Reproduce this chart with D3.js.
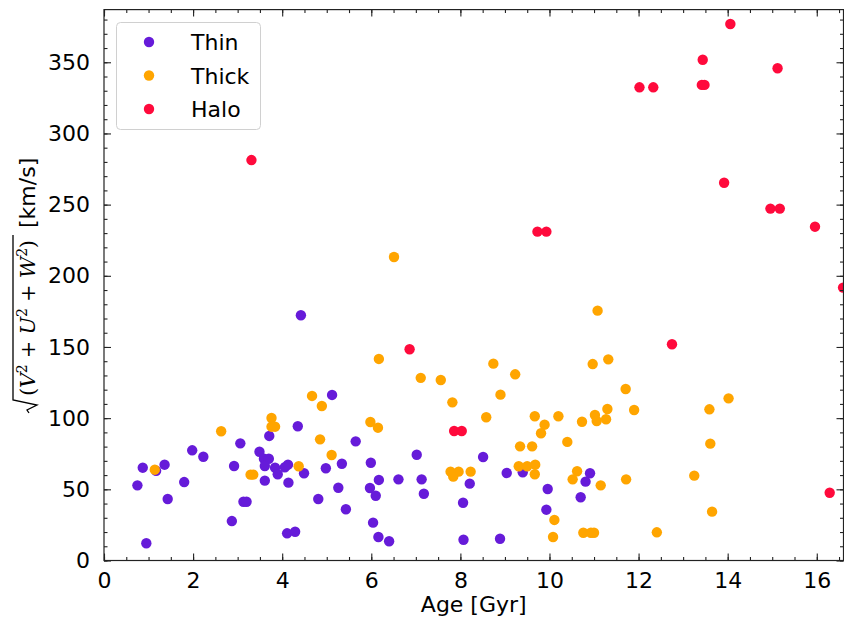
<!DOCTYPE html>
<html><head><meta charset="utf-8">
<script src="https://cdn.jsdelivr.net/npm/d3@7"></script>
<style>body{margin:0;background:#fff}svg{display:block}</style>
</head><body>
<svg id="chart" width="844" height="621"></svg>
<script>
const thinAge = [0.75,0.87,0.95,1.17,1.36,1.43,1.80,1.98,2.23,2.87,2.92,3.06,3.13,3.20,3.49,3.59,3.70,3.61,3.61,3.71,3.84,3.90,4.06,4.13,4.14,4.11,4.29,4.35,4.42,4.49,4.81,4.98,5.12,5.26,5.34,5.43,5.65,5.99,6.17,5.97,6.10,6.04,6.16,6.40,6.61,7.02,7.13,7.18,8.06,8.07,8.21,8.51,8.89,9.04,9.40,9.96,9.93,10.70,10.81,10.91];
const thinVel = [52.8,65.2,12.1,63,67.3,43.2,55.1,77.4,72.9,27.7,66.4,82.3,41.3,41.3,76.4,71.5,71.5,66.4,56.1,87.5,65.2,60.6,65.5,67.3,54.7,19.1,20.2,94.3,172.3,61.3,43.2,64.8,116.3,51.1,68,36.0,83.7,68.7,56.6,50.9,45.5,26.6,16.5,13.5,57.0,74.3,57.0,46.9,40.6,14.6,54.0,72.7,15.3,61.5,62.0,50.2,35.7,44.4,55.4,61.3];
const thickAge = [1.14,2.63,3.29,3.35,3.76,3.76,3.84,4.37,4.67,4.89,4.85,5.11,5.98,6.15,6.17,6.51,7.11,7.56,7.82,7.78,7.96,7.84,8.23,8.58,8.74,8.90,9.23,9.34,9.61,9.31,9.50,9.68,9.67,9.67,9.89,9.81,10.20,10.40,10.11,10.08,10.62,10.52,10.73,10.76,10.93,11.00,10.97,11.02,11.06,11.08,11.15,11.27,11.30,11.32,11.71,11.72,11.90,12.41,13.25,13.59,13.61,13.65,14.02];
const thickVel = [63.8,90.8,60.3,60.3,100.1,94,94,66.2,115.6,108.5,85.1,74.1,97.3,93.3,141.6,213.2,128.3,126.8,111.1,62.4,62.4,58.9,62.4,100.6,138.3,116.5,130.8,80.2,80.2,66.2,66.2,67.3,60.6,101.3,95.4,89.4,101.3,83.3,28.5,16.5,62.7,57.0,97.5,19.5,19.5,19.5,138,102.2,98,175.5,52.8,99.2,106.4,141.3,120.5,57.0,105.7,19.8,59.6,106.2,82.1,34.3,113.9];
const haloAge = [3.31,6.86,7.86,8.03,9.73,9.93,12.02,12.33,12.75,13.42,13.48,13.44,13.92,14.06,14.96,15.17,15.12,15.96,16.29,16.59];
const haloVel = [281.3,148.4,91.0,91.0,231.0,231.0,332.4,332.4,151.9,334.1,334.1,351.8,265.4,376.9,247.2,247.2,345.8,234.5,47.6,191.7];
const seriesNames = ["Thin","Thick","Halo"];
const seriesColors = ["#661bd9","#ffa500","#ff0a3c"];
const xTicks = [0,2,4,6,8,10,12,14,16];
const yTicks = [0,50,100,150,200,250,300,350];

const svg = d3.select("#chart");
const L = 104, R = 843.5, T = 9.6, B = 560.5;
const x = d3.scaleLinear().domain([0,16.6]).range([L,R]);
const y = d3.scaleLinear().domain([0,387]).range([B,T]);
const FONT = "'DejaVu Sans', sans-serif";

svg.append("defs").append("clipPath").attr("id","clip")
  .append("rect").attr("x",L).attr("y",T).attr("width",R-L).attr("height",B-T);

const series = [
  {name:seriesNames[0], color:seriesColors[0], ages:thinAge, vels:thinVel},
  {name:seriesNames[1], color:seriesColors[1], ages:thickAge, vels:thickVel},
  {name:seriesNames[2], color:seriesColors[2], ages:haloAge, vels:haloVel}
];
const pts = svg.append("g").attr("clip-path","url(#clip)");
series.forEach(s => {
  pts.append("g").selectAll("circle").data(s.ages.map((a,i)=>[a,s.vels[i]]))
    .join("circle").attr("cx",d=>x(d[0])).attr("cy",d=>y(d[1])).attr("r",5.2).attr("fill",s.color);
});

// axes with inward ticks on all sides
const xMinor = d3.range(0,16.6,0.5);
const yMinor = d3.range(0,387,10);
function axisStyle(g){ g.select(".domain").remove(); g.selectAll("line").attr("stroke","#222").attr("stroke-width",1.1); }
svg.append("g").attr("transform",`translate(0,${B})`).call(d3.axisBottom(x).tickValues(xMinor).tickSize(-3.5).tickFormat("")).call(axisStyle);
svg.append("g").attr("transform",`translate(0,${B})`).call(d3.axisBottom(x).tickValues(xTicks).tickSize(-7).tickPadding(12).tickFormat(d3.format("d"))).call(axisStyle)
  .selectAll("text").attr("font-family",FONT).attr("font-size",22).attr("fill","#000");
svg.append("g").attr("transform",`translate(0,${T})`).call(d3.axisTop(x).tickValues(xMinor).tickSize(-3.5).tickFormat("")).call(axisStyle);
svg.append("g").attr("transform",`translate(0,${T})`).call(d3.axisTop(x).tickValues(xTicks).tickSize(-7).tickFormat("")).call(axisStyle);
svg.append("g").attr("transform",`translate(${L},0)`).call(d3.axisLeft(y).tickValues(yMinor).tickSize(-3.5).tickFormat("")).call(axisStyle);
svg.append("g").attr("transform",`translate(${L},0)`).call(d3.axisLeft(y).tickValues(yTicks).tickSize(-7).tickPadding(14).tickFormat(d3.format("d"))).call(axisStyle)
  .selectAll("text").attr("font-family",FONT).attr("font-size",22).attr("fill","#000");
svg.append("g").attr("transform",`translate(${R},0)`).call(d3.axisRight(y).tickValues(yMinor).tickSize(-3.5).tickFormat("")).call(axisStyle);
svg.append("g").attr("transform",`translate(${R},0)`).call(d3.axisRight(y).tickValues(yTicks).tickSize(-7).tickFormat("")).call(axisStyle);

svg.append("rect").attr("x",L).attr("y",T).attr("width",R-L).attr("height",B-T)
  .attr("fill","none").attr("stroke","#222").attr("stroke-width",1.2);

// x label
svg.append("text").attr("x",(L+R)/2).attr("y",612).attr("text-anchor","middle")
  .attr("font-family",FONT).attr("font-size",22).text("Age [Gyr]");

// y label (math)
const yl = svg.append("g").attr("transform","translate(37,413) rotate(-90)");
yl.append("path").attr("d","M0,-8 L3,-10 L8,0 L13,-24 L178,-24").attr("fill","none").attr("stroke","#000").attr("stroke-width",1.3);
const mt = yl.append("text").attr("x",17).attr("y",-2).attr("font-family","'DejaVu Serif', serif").attr("font-size",21)
  .attr("textLength",156).attr("lengthAdjust","spacing");
const parts = [["(",false,false],["V",true,false],["2",false,true],[" + ",false,false],["U",true,false],["2",false,true],[" + ",false,false],["W",true,false],["2",false,true],[")",false,false]];
parts.forEach(p=>{
  const t = mt.append("tspan").text(p[0]);
  if(p[1]) t.attr("font-style","italic");
  if(p[2]) t.attr("font-size",14).attr("dy",-8); 
  else t.attr("dy", 0);
});
// reset baseline after superscripts
mt.selectAll("tspan").each(function(d,i){
  const p = parts[i];
  if(!p[2] && i>0 && parts[i-1][2]) d3.select(this).attr("dy",8);
});
yl.append("text").attr("x",185).attr("y",-2).attr("font-family",FONT).attr("font-size",22).text("[km/s]");

// legend
const lg = svg.append("g");
lg.append("rect").attr("x",116.5).attr("y",22.5).attr("width",144).attr("height",107).attr("rx",4)
  .attr("fill","#fff").attr("fill-opacity",0.8).attr("stroke","#d0d0d0").attr("stroke-width",1);
const rowY = d3.scalePoint().domain(seriesNames).range([42,109]);
seriesNames.forEach((n,i)=>{
  lg.append("circle").attr("cx",149).attr("cy",rowY(n)).attr("r",5.2).attr("fill",seriesColors[i]);
  lg.append("text").attr("x",191).attr("y",rowY(n)+8).attr("font-family",FONT).attr("font-size",22).text(n);
});
</script>
</body></html>
